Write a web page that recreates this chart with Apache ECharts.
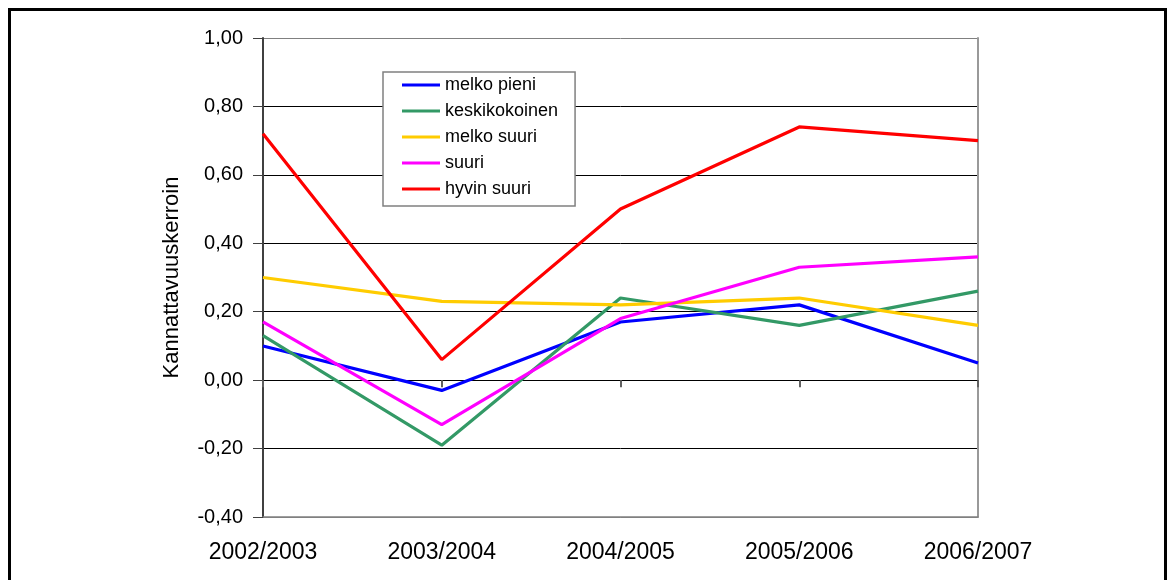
<!DOCTYPE html>
<html>
<head>
<meta charset="utf-8">
<script src="https://cdn.jsdelivr.net/npm/echarts@6/dist/echarts.min.js"></script>
<style>
html,body{margin:0;padding:0;background:#fff;}
#chart{width:1173px;height:580px;}
</style>
</head>
<body>
<div id="chart"></div>
<script>
const categories = ['2002/2003', '2003/2004', '2004/2005', '2005/2006', '2006/2007'];
const melkoPieni = [0.10, -0.03, 0.17, 0.22, 0.05];
const keskikokoinen = [0.13, -0.19, 0.24, 0.16, 0.26];
const melkoSuuri = [0.30, 0.23, 0.22, 0.24, 0.16];
const suuri = [0.17, -0.13, 0.18, 0.33, 0.36];
const hyvinSuuri = [0.72, 0.06, 0.50, 0.74, 0.70];
const seriesNames = ['melko pieni', 'keskikokoinen', 'melko suuri', 'suuri', 'hyvin suuri'];
const seriesColors = ['#0000FF', '#339966', '#FFCC00', '#FF00FF', '#FF0000'];
const yAxisTitle = 'Kannattavuuskerroin';

const allData = [melkoPieni, keskikokoinen, melkoSuuri, suuri, hyvinSuuri];
const font = '"Liberation Sans", Arial, sans-serif';

const chart = echarts.init(document.getElementById('chart'));
chart.setOption({
  animation: false,
  backgroundColor: '#fff',
  textStyle: { fontFamily: font },
  graphic: [{
    type: 'rect',
    shape: { x: 9.5, y: 9.5, width: 1156, height: 600 },
    style: { fill: 'none', stroke: '#000', lineWidth: 3 },
    silent: true
  }],
  grid: { left: 263, right: 195, top: 38, bottom: 63 },
  legend: {
    orient: 'vertical',
    left: 383,
    top: 72,
    padding: [4, 17, 8, 19],
    itemGap: 8,
    itemWidth: 38,
    itemHeight: 3,
    icon: 'rect',
    borderColor: '#808080',
    borderWidth: 1.5,
    backgroundColor: '#fff',
    textStyle: { fontFamily: font, fontSize: 18, color: '#000', padding: [0, 0, 0, 0] },
    data: seriesNames
  },
  xAxis: [{
    type: 'category',
    data: categories,
    boundaryGap: false,
    position: 'bottom',
    axisLine: { onZero: false, lineStyle: { color: '#808080', width: 1.5 } },
    axisTick: { show: false },
    axisLabel: { fontFamily: font, fontSize: 23, color: '#000', margin: 24 },
    splitLine: { show: false }
  }, {
    type: 'category',
    data: categories,
    boundaryGap: false,
    position: 'bottom',
    axisLine: { onZero: true, lineStyle: { color: '#000', width: 1 } },
    axisTick: { show: true, length: 7, alignWithLabel: true, lineStyle: { color: '#606060', width: 2 } },
    axisLabel: { show: false },
    splitLine: { show: false }
  }],
  yAxis: [{
    type: 'value',
    min: -0.4,
    max: 1.0,
    interval: 0.2,
    name: yAxisTitle,
    nameLocation: 'middle',
    nameGap: 80,
    nameTextStyle: { fontFamily: font, fontSize: 22, color: '#000' },
    axisLine: { show: true, lineStyle: { color: '#404040', width: 2 } },
    axisTick: { show: true, length: 10, lineStyle: { color: '#404040', width: 1 } },
    axisLabel: {
      fontFamily: font, fontSize: 20, color: '#000', margin: 20,
      formatter: v => v.toFixed(2).replace('.', ',')
    },
    splitLine: {
      show: true,
      lineStyle: { color: ['#808080', '#000', '#000', '#000', '#000', '#000', '#000', '#808080'], width: 1 }
    }
  }, {
    type: 'value',
    min: -0.4,
    max: 1.0,
    interval: 0.2,
    position: 'right',
    axisLine: { show: true, onZero: false, lineStyle: { color: '#999', width: 2 } },
    axisTick: { show: false },
    axisLabel: { show: false },
    splitLine: { show: false }
  }],
  series: allData.map((d, i) => ({
    name: seriesNames[i],
    type: 'line',
    data: d,
    xAxisIndex: 0,
    yAxisIndex: 0,
    showSymbol: false,
    symbol: 'none',
    color: seriesColors[i],
    lineStyle: { color: seriesColors[i], width: 3.2 },
    z: 3
  }))
});
</script>
</body>
</html>
